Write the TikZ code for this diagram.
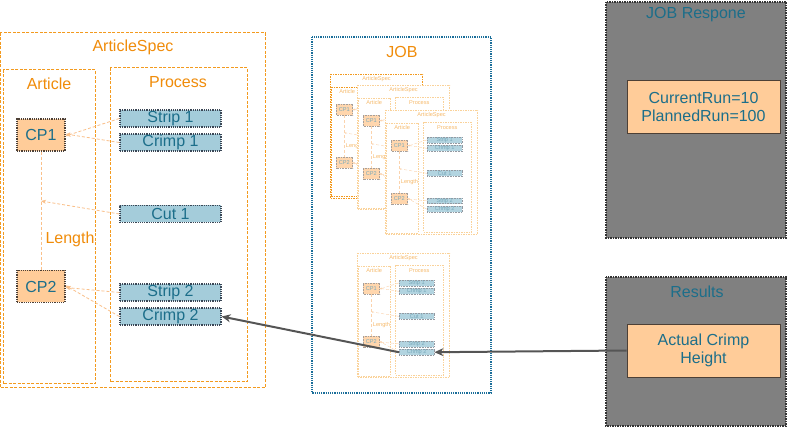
\documentclass[tikz,border=0pt]{standalone}
\usepackage{fontspec}
\setmainfont{Liberation Sans}
\usetikzlibrary{arrows.meta}
\definecolor{frameor}{HTML}{F39A1E}
\definecolor{titleor}{HTML}{F08C0A}
\definecolor{cpfill}{HTML}{FFCC99}
\definecolor{cpdraw}{HTML}{4D4036}
\definecolor{prfill}{HTML}{A4CCDA}
\definecolor{prdraw}{HTML}{3A4655}
\definecolor{teal}{HTML}{1C6E8A}
\definecolor{linkor}{HTML}{FAC08A}
\definecolor{jobblue}{HTML}{1A6E9A}
\definecolor{boxgrey}{HTML}{808080}
\definecolor{arrgrey}{HTML}{555555}
\tikzset{
  txt/.style={font=\fontsize{16}{18}\selectfont},
  aframe/.style={draw=frameor, dash pattern=on 3pt off 1.5pt, line width=1pt},
  atitle/.style={txt, text=titleor},
  cpbox/.style={txt, fill=cpfill, draw=cpdraw, densely dotted, line width=1.2pt, text=teal,
    minimum width=48, minimum height=32, inner sep=0pt},
  procbox/.style={txt, fill=prfill, draw=prdraw, densely dotted, line width=1.2pt, text=teal,
    minimum width=101, minimum height=17, inner sep=0pt},
  link/.style={draw=linkor, densely dashed, line width=0.8pt},
  linkarr/.style={link, -{Stealth[length=5pt,width=4pt]}},
  aspec/.pic={
    \draw[aframe, fill=white] (0,0) rectangle (265,355);
    \node[atitle] (-title) at (133,14) {ArticleSpec};
    \draw[aframe] (3,37) rectangle (95,351);
    \node[atitle] (-arttitle) at (49,51) {Article};
    \draw[aframe] (110,35) rectangle (247,349);
    \node[atitle] (-proctitle) at (178,49) {Process};
    \node[cpbox] (-cp1) at (41,102) {CP1};
    \node[cpbox] (-cp2) at (41,253.5) {CP2};
    \node[procbox] (-strip1) at (170.5,85.5) {Strip 1};
    \node[procbox] (-crimp1) at (170.5,109.5) {Crimp 1};
    \node[procbox] (-cut1) at (170.5,181) {Cut 1};
    \node[procbox] (-strip2) at (170.5,259.5) {Strip 2};
    \node[procbox] (-crimp2) at (170.5,283.5) {Crimp 2};
    \node[atitle] (-length) at (70,206) {Length};
    \coordinate (-lenpt) at (41,168);
    \draw[link] (-cp1.south) -- (-cp2.north);
    \draw[linkarr] (-cut1.west) -- (-lenpt);
    \draw[linkarr] (-strip1.west) -- ([yshift=-1pt]-cp1.east);
    \draw[linkarr] (-crimp1.west) -- ([yshift=1pt]-cp1.east);
    \draw[linkarr] (-strip2.west) -- ([yshift=-1pt]-cp2.east);
    \draw[linkarr] (-crimp2.west) -- ([yshift=1pt]-cp2.east);
  },
  mini/.style={
    aframe/.style={draw=frameor!45, dash pattern=on 1.5pt off 1pt, line width=0.6pt},
    atitle/.style={txt, text=titleor!60},
    cpbox/.style={txt, fill=cpfill!80, draw=cpdraw!50, densely dotted, line width=0.6pt, text=teal!60,
      minimum width=48, minimum height=32, inner sep=0pt},
    procbox/.style={txt, fill=prfill!85, draw=prdraw!55, densely dotted, line width=0.6pt, text=teal!60,
      minimum width=101, minimum height=17, inner sep=0pt},
    link/.style={draw=linkor!70, densely dashed, line width=0.4pt},
    linkarr/.style={link, -{Stealth[length=2pt,width=1.6pt]}}
  },
  greybox/.style={fill=boxgrey, draw=black!80, densely dotted, line width=1.5pt},
  valbox/.style={txt, fill=cpfill, draw=cpdraw, line width=0.8pt, text=teal, align=center,
    minimum width=153, minimum height=53, inner sep=0pt},
  bigarrow/.style={draw=arrgrey, line width=2pt, -{Stealth[length=9pt,width=8pt]}}
}
\begin{document}
\begin{tikzpicture}[x=1pt,y=-1pt]
\useasboundingbox (0,0) rectangle (787,427);
% main article spec
\pic (m) at (0,33) {aspec};
% JOB frame
\draw[draw=jobblue, densely dotted, line width=1.2pt] (312,37) rectangle (491,393);
\node[atitle] (jobtitle) at (402,52) {JOB};
% miniature copies
\begin{scope}[mini, aframe/.style={draw=frameor, dash pattern=on 1.5pt off 1pt, line width=0.7pt}]
  \pic[scale=0.35, transform shape] (q1) at (330,74) {aspec};
\end{scope}
\begin{scope}[mini]
  \pic[scale=0.35, transform shape] (q2) at (357,85) {aspec};
  \pic[scale=0.35, transform shape] (q3) at (385,110) {aspec};
  \pic[scale=0.35, transform shape] (q4) at (357,253) {aspec};
\end{scope}
% JOB Respone
\draw[greybox] (606,2) rectangle (786,238);
\node[txt, text=teal] (resptitle) at (696,15) {JOB Respone};
\node[valbox] (run) at (703.5,106.5) {CurrentRun=10\\PlannedRun=100};
% Results
\draw[greybox] (606,277) rectangle (786,426);
\node[txt, text=teal] (restitle) at (697,292) {Results};
\node[valbox] (ach) at (703.5,350.5) {Actual Crimp\\Height};
% arrows
\draw[bigarrow] (ach.west) -- (q4-crimp2.east);
\draw[bigarrow] (q4-crimp2.west) -- (m-crimp2.east);
\end{tikzpicture}
\end{document}
